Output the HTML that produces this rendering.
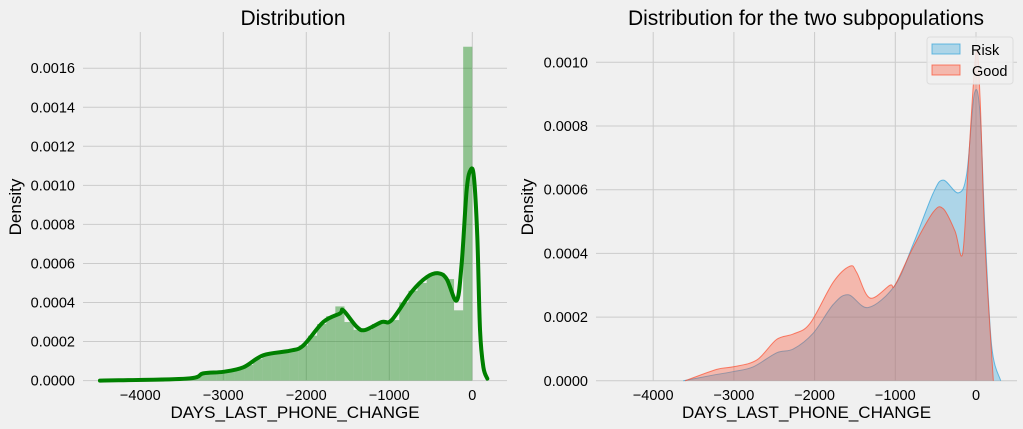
<!DOCTYPE html>
<html><head><meta charset="utf-8">
<style>
html,body{margin:0;padding:0;background:#f0f0f0;}
svg{display:block;font-family:"Liberation Sans","DejaVu Sans",sans-serif;}
</style></head>
<body>
<svg id="fig" width="1023" height="429" viewBox="0 0 1023 429" xmlns="http://www.w3.org/2000/svg">
<rect x="0" y="0" width="1023" height="429" fill="#f0f0f0"/>
<g id="left"></g>
<g id="right"></g>
</svg>
<script>
// ---- Left panel data ----
const histBinStart = -4400;
const histBinWidth = 110;
const histHeights = [0,0,0,0,0,0,0,0.000003,0.000005,0.00001,0.00003,0.00004,0.000045,0.00005,0.00006,0.00008,0.00011,0.00013,0.00014,0.00015,0.00016,0.00018,0.00023,0.00029,0.00033,0.00038,0.0003,0.00026,0.00026,0.00029,0.0003,0.00031,0.0004,0.00046,0.0005,0.00054,0.00055,0.00052,0.00036,0.00171];
const kdeX = [-4486,-3441,-3241,-3000,-2759,-2518,-2196,-2036,-1795,-1594,-1554,-1393,-1293,-1092,-971,-730,-549,-410,-308,-188,-128,-67,-19,20,60,93,133,181];
const kdeY = [0,0.00001,0.000037,0.000045,0.000068,0.00013,0.000153,0.00018,0.0003,0.000344,0.00036,0.000276,0.000259,0.0003,0.00031,0.000455,0.00053,0.00055,0.00052,0.00041,0.0006,0.00098,0.00108,0.00104,0.00074,0.00026,0.00007,0.00001];
const leftXTicks = [-4000,-3000,-2000,-1000,0];
const leftYTicks = [0,0.0002,0.0004,0.0006,0.0008,0.001,0.0012,0.0014,0.0016];
// ---- Right panel data ----
const riskX = [-3627,-3255,-3007,-2759,-2470,-2263,-2016,-1768,-1582,-1334,-1004,-777,-529,-405,-219,-115,-21,50,112,194,306];
const riskY = [0,0.000018,0.000029,0.000044,0.000088,0.0001,0.00015,0.00024,0.00027,0.00023,0.0003,0.00043,0.00059,0.00063,0.00059,0.00065,0.0009,0.00084,0.00047,0.00011,0];
const goodX = [-3606,-3213,-3007,-2718,-2470,-2263,-2057,-1768,-1561,-1478,-1314,-1066,-1004,-777,-529,-405,-260,-165,-95,0,50,112,215];
const goodY = [0,0.000036,0.000044,0.000065,0.00013,0.000147,0.00018,0.00031,0.00036,0.00034,0.00026,0.0003,0.0003,0.00042,0.00053,0.00054,0.00047,0.0004,0.00068,0.00103,0.00089,0.00043,0];
const rightXTicks = [-4000,-3000,-2000,-1000,0];
const rightYTicks = [0,0.0002,0.0004,0.0006,0.0008,0.001];

const NS="http://www.w3.org/2000/svg";
function mk(parent,tag,attrs,text){const e=document.createElementNS(NS,tag);for(const k in attrs)e.setAttribute(k,attrs[k]);if(text!==undefined)e.textContent=text;parent.appendChild(e);return e;}
function smooth(pts){let d="M"+pts[0][0]+","+pts[0][1];for(let i=0;i<pts.length-1;i++){const p0=pts[Math.max(0,i-1)],p1=pts[i],p2=pts[i+1],p3=pts[Math.min(pts.length-1,i+2)];const c1=[p1[0]+(p2[0]-p0[0])/6,p1[1]+(p2[1]-p0[1])/6],c2=[p2[0]-(p3[0]-p1[0])/6,p2[1]-(p3[1]-p1[1])/6];d+="C"+c1[0]+","+c1[1]+" "+c2[0]+","+c2[1]+" "+p2[0]+","+p2[1];}return d;}
function fmtY(v){return v.toFixed(4);}
function fmtX(v){return v<0?"\u2212"+Math.abs(v):String(v);}

function axes(g,xs,ys,l,r,t,b,xt,yt,title,titleX){
  for(const v of yt){const ln=mk(g,"line",{x1:l,x2:r,y1:ys(v),y2:ys(v),stroke:"#cbcbcb","stroke-width":1});
    
    const tx=mk(g,"text",{x:l-8,y:ys(v)+5,"text-anchor":"end","font-size":14.5,fill:"#000"},fmtY(v));
    }
  for(const v of xt){const ln=mk(g,"line",{x1:xs(v),x2:xs(v),y1:t,y2:b,stroke:"#cbcbcb","stroke-width":1});
    
    const tx=mk(g,"text",{x:xs(v),y:b+19,"text-anchor":"middle","font-size":14.5,fill:"#000"},fmtX(v));
    }
  const ti=mk(g,"text",{x:titleX,y:25,"text-anchor":"middle","font-size":21,fill:"#000"},title);
  
  const xl=mk(g,"text",{x:(l+r)/2,y:418,"text-anchor":"middle","font-size":17,fill:"#000"},"DAYS_LAST_PHONE_CHANGE");
  
}

// Left
(function(){
  const g=document.getElementById("left");
  const l=83,r=507,t=32,b=381;
  const xs=v=>472.3+v*0.083, ys=v=>380.6-v/0.0002*39.05;
  axes(g,xs,ys,l,r,t,b,leftXTicks,leftYTicks,"Distribution",293);
  const yl=mk(g,"text",{x:0,y:0,"text-anchor":"middle","font-size":17,transform:"translate(21,207) rotate(-90)"},"Density");
  
  histHeights.forEach((h,i)=>{ if(h<=0) return;
    const x0=xs(histBinStart+i*histBinWidth),x1=xs(histBinStart+(i+1)*histBinWidth);
    const rc=mk(g,"rect",{x:x0,y:ys(h),width:x1-x0,height:ys(0)-ys(h),fill:"#008000","fill-opacity":0.4});
    });
  const pts=kdeX.map((x,i)=>[xs(x),ys(kdeY[i])]);
  const p=mk(g,"path",{d:smooth(pts),fill:"none",stroke:"#008000","stroke-width":4,"stroke-linejoin":"round","stroke-linecap":"round"});
  
})();

// Right
(function(){
  const g=document.getElementById("right");
  const l=596,r=1017,t=32,b=381;
  const xs=v=>976+v*0.0807, ys=v=>380.8-v/0.0002*63.7;
  axes(g,xs,ys,l,r,t,b,rightXTicks,rightYTicks,"Distribution for the two subpopulations",806);
  const yl=mk(g,"text",{x:0,y:0,"text-anchor":"middle","font-size":17,transform:"translate(533,207) rotate(-90)"},"Density");
  
  function area(X,Y,col,name){
    const pts=X.map((x,i)=>[xs(x),ys(Y[i])]);
    const d=smooth(pts);
    const f=mk(g,"path",{d:d+"L"+pts[pts.length-1][0]+","+ys(0)+"L"+pts[0][0]+","+ys(0)+"Z",fill:col,"fill-opacity":0.35,stroke:"none"});
    
    const s=mk(g,"path",{d:d,fill:"none",stroke:col,"stroke-width":1,"stroke-opacity":0.7});
    
  }
  area(riskX,riskY,"#30a2da","risk");
  area(goodX,goodY,"#fc4f30","good");
  const lg=mk(g,"g",{});
  
  mk(lg,"rect",{x:927,y:37,width:86,height:47,rx:3,fill:"#f0f0f0","fill-opacity":0.85,stroke:"#dddddd"});
  const e1=mk(lg,"rect",{x:932,y:44,width:28,height:10,fill:"#30a2da","fill-opacity":0.35,stroke:"#30a2da","stroke-opacity":0.7});
  
  const t1=mk(lg,"text",{x:971,y:55,"font-size":14.5},"Risk");
  
  const e2=mk(lg,"rect",{x:932,y:65,width:28,height:10,fill:"#fc4f30","fill-opacity":0.35,stroke:"#fc4f30","stroke-opacity":0.7});
  
  const t2=mk(lg,"text",{x:972,y:76,"font-size":14.5},"Good");
  
})();
</script>
</body></html>
